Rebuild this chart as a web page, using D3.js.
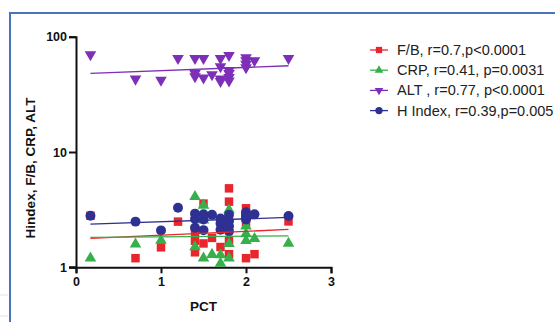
<!DOCTYPE html>
<html>
<head>
<meta charset="utf-8">
<script src="https://cdn.jsdelivr.net/npm/d3@7"></script>
<style>
  body { margin: 0; background: #fff; }
  svg { display: block; font-family: "Liberation Sans", Arial, sans-serif; }
</style>
</head>
<body>
<div id="chart"></div>
<script>
// PCT vs marker values
const fbPoints = [[0.17,2.8],[0.7,1.2],[1.0,1.49],[1.2,2.49],[1.4,2.0],[1.4,1.7],[1.4,1.35],
    [1.5,3.57],[1.5,1.61],[1.6,1.8],[1.7,1.5],[1.8,4.84],[1.8,3.71],[1.8,1.72],[1.8,1.3],
    [2.0,3.25],[2.0,2.45],[2.0,1.2],[2.1,1.3],[2.5,2.5]];
const crpPoints = [[0.17,1.2],[0.7,1.59],[1.0,1.71],[1.4,4.1],[1.4,1.5],[1.5,3.45],[1.5,2.57],
    [1.5,1.2],[1.6,1.29],[1.7,1.28],[1.7,1.08],[1.8,3.15],[1.8,1.6],[1.8,1.2],
    [2.0,2.27],[2.0,1.95],[2.0,1.7],[2.1,1.77],[2.5,1.61]];
const altPoints = [[0.17,70],[0.7,43],[1.0,42],[1.2,65],[1.4,65],[1.4,48],[1.4,45],[1.5,65],[1.5,44],
    [1.6,47],[1.7,65],[1.7,55],[1.7,43],[1.7,41],[1.8,69],[1.8,51],[1.8,48],[1.8,44.5],[1.8,41.5],
    [2.0,66],[2.0,62],[2.0,58],[2.0,54],[2.1,62],[2.5,65]];
const hPoints = [[0.17,2.8],[0.7,2.49],[1.0,2.09],[1.2,3.29],[1.4,2.92],[1.4,2.62],[1.4,2.2],
    [1.5,2.88],[1.5,2.6],[1.5,2.1],[1.6,2.86],[1.7,2.65],[1.7,2.4],[1.7,2.12],
    [1.8,2.85],[1.8,2.52],[1.8,2.27],[1.8,2.05],[2.0,3.0],[2.0,2.85],[2.0,2.72],[2.0,2.6],
    [2.1,2.88],[2.5,2.79]];

// regression line ends (at the first and last PCT)
const fitX = [0.17, 2.5];
const fbFit = [1.78, 2.13];
const crpFit = [1.82, 1.87];
const altFit = [48, 56];
const hFit = [2.37, 2.71];

const legendLabels = ["F/B, r=0.7,p<0.0001", "CRP, r=0.41, p=0.0031", "ALT , r=0.77, p<0.0001", "H Index, r=0.39,p=0.005"];
const xTicks = [0, 1, 2, 3];
const yTicks = [1, 10, 100];

const series = [
    {points: fbPoints, fit: fbFit, color: "#e8262b", symbol: d3.symbolSquare, size: 72, rot: 0},
    {points: crpPoints, fit: crpFit, color: "#35b04a", symbol: d3.symbolTriangle, size: 58, rot: 0},
    {points: altPoints, fit: altFit, color: "#7d2fb8", symbol: d3.symbolTriangle, size: 58, rot: 180},
    {points: hPoints, fit: hFit, color: "#2e3192", symbol: d3.symbolCircle, size: 78, rot: 0}
];

const W = 555, H = 322;
const svg = d3.select("#chart").append("svg").attr("width", W).attr("height", H);

// frame lines of the figure panel
svg.append("line").attr("x1", 10).attr("x2", W).attr("y1", 13).attr("y2", 13)
    .attr("stroke", "#4a74c0").attr("stroke-width", 2);
svg.append("line").attr("x1", 10).attr("x2", 10).attr("y1", 12).attr("y2", H)
    .attr("stroke", "#4a74c0").attr("stroke-width", 2);
[295, 316].forEach(y =>
    svg.append("line").attr("x1", 0).attr("x2", 8).attr("y1", y).attr("y2", y)
        .attr("stroke", "#e2e2e2").attr("stroke-width", 1));

let x = d3.scaleLinear().domain([0, 3]).range([76, 331]);
let y = d3.scaleLog().domain([1, 100]).range([267.3, 36.7]);

// axes
let xAxis = svg.append("g").attr("transform", `translate(0,${y(1)})`)
    .call(d3.axisBottom(x).tickValues(xTicks).tickFormat(d3.format("d")).tickSize(6).tickPadding(4));
let yAxis = svg.append("g").attr("transform", `translate(${x(0)},0)`)
    .call(d3.axisLeft(y).tickValues(yTicks).tickFormat(d3.format("d")).tickSize(7).tickPadding(2));
[xAxis, yAxis].forEach(a => {
    a.select(".domain").attr("stroke", "#111").attr("stroke-width", 2);
    a.selectAll(".tick line").attr("stroke", "#111").attr("stroke-width", 2);
    a.selectAll("text").attr("fill", "#111").style("font-size", "12.5px").style("font-weight", "bold")
        .style("font-family", "Liberation Sans, Arial, sans-serif");
});
// extend the x axis line left to meet the y=1 tick
svg.append("line").attr("x1", 69).attr("x2", 77).attr("y1", y(1)).attr("y2", y(1))
    .attr("stroke", "#111").attr("stroke-width", 2);

svg.append("text").attr("x", 203.5).attr("y", 311)
    .attr("text-anchor", "middle").style("font-size", "13.5px").style("font-weight", "bold")
    .attr("fill", "#111").text("PCT");
svg.append("text").attr("transform", "translate(35,168) rotate(-90)")
    .attr("text-anchor", "middle").style("font-size", "13.5px").style("font-weight", "bold")
    .attr("fill", "#111").text("Hindex, F/B, CRP, ALT");

// points
series.forEach(s => {
    let sym = d3.symbol().type(s.symbol).size(s.size);
    svg.append("g").selectAll("path")
        .data(s.points)
        .enter().append("path")
        .attr("d", sym)
        .attr("fill", s.color)
        .attr("transform", d => `translate(${x(d[0])},${y(d[1])}) rotate(${s.rot})`);
});

// regression lines
series.forEach(s => {
    svg.append("line")
        .attr("x1", x(fitX[0])).attr("x2", x(fitX[1]))
        .attr("y1", y(s.fit[0])).attr("y2", y(s.fit[1]))
        .attr("stroke", s.color).attr("stroke-width", 1.3);
});

// legend
let legend = svg.selectAll(".legend")
    .data(series)
    .enter().append("g")
    .attr("class", "legend")
    .attr("transform", (d, i) => `translate(0,${50 + i * 20.2})`);
legend.append("line").attr("x1", 370).attr("x2", 388).attr("y1", 0).attr("y2", 0)
    .attr("stroke", d => d.color).attr("stroke-width", 1.3);
legend.append("path")
    .attr("d", d => d3.symbol().type(d.symbol).size(d.size * 0.55)())
    .attr("fill", d => d.color)
    .attr("transform", d => `translate(379,0) rotate(${d.rot})`);
legend.append("text")
    .attr("x", 397).attr("y", 0).attr("dy", ".35em")
    .style("font-size", "14.5px").attr("fill", "#222")
    .text((d, i) => legendLabels[i]);
</script>
</body>
</html>
